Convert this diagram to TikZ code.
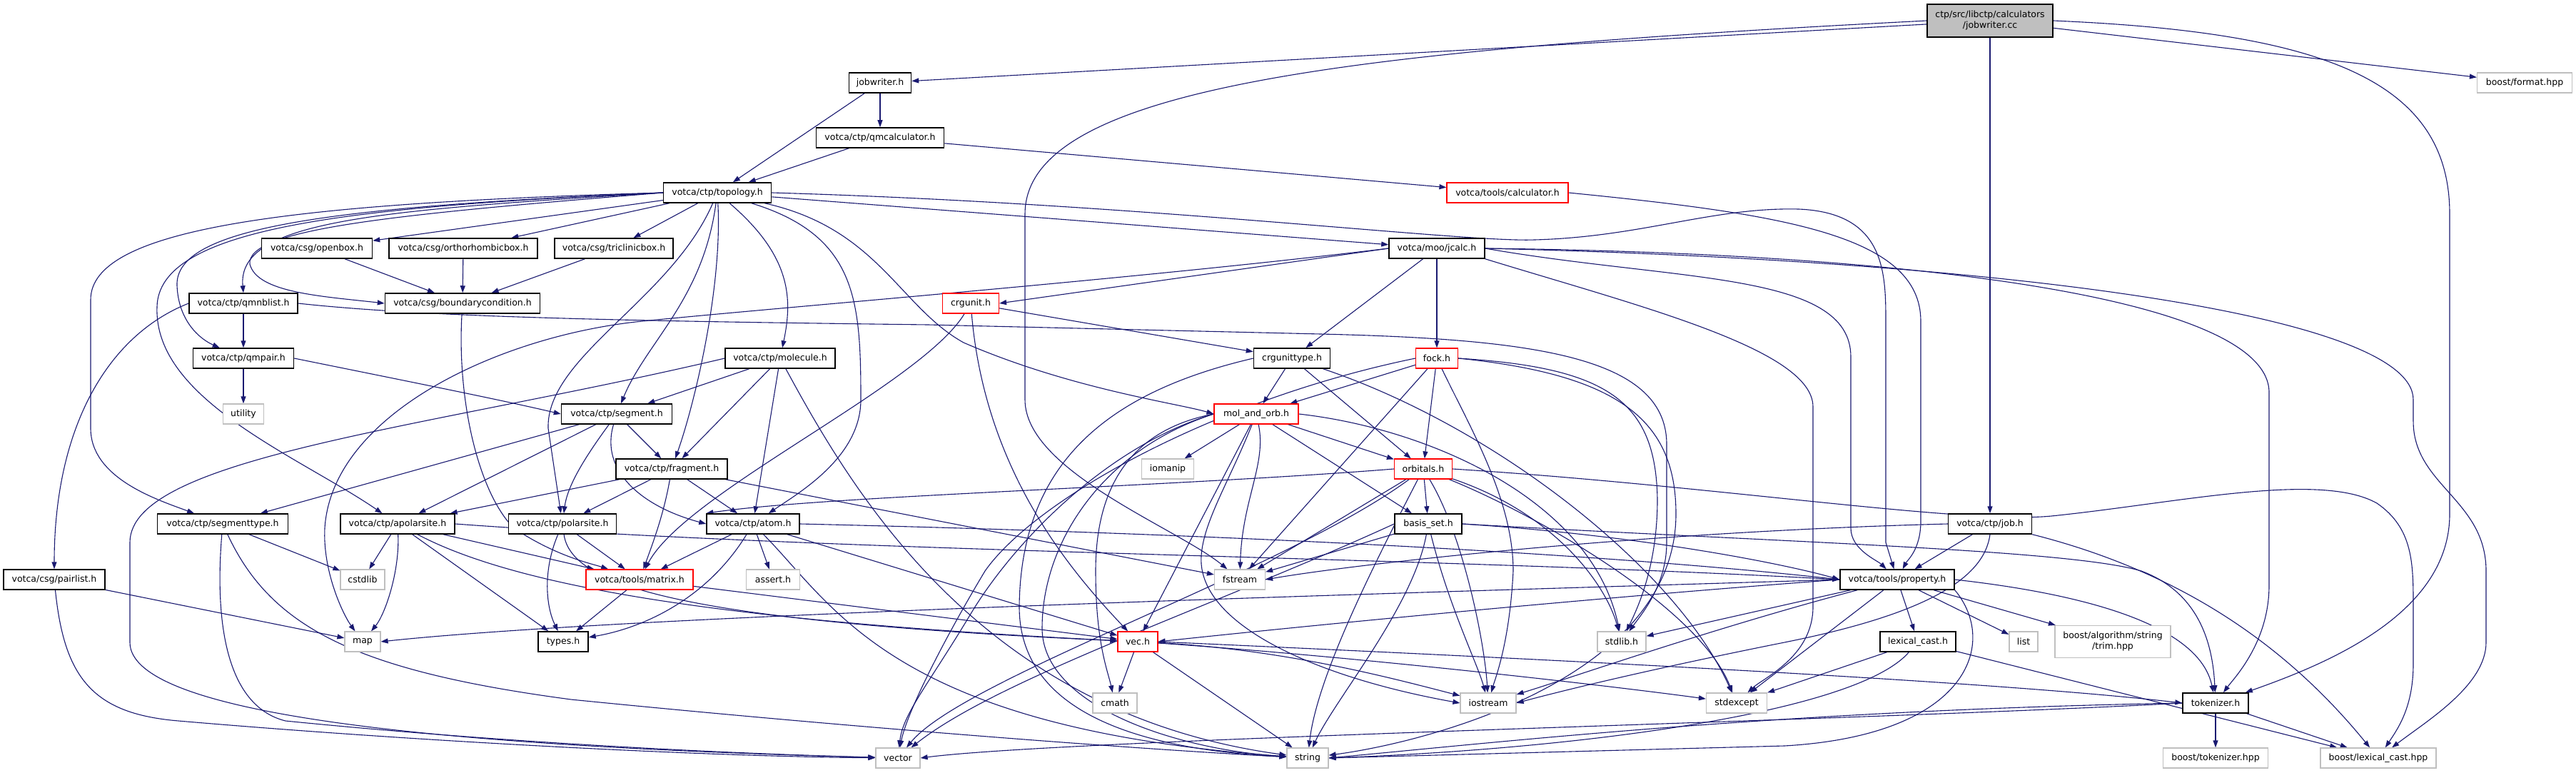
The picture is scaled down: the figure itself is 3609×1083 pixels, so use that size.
\documentclass[tikz,border=0pt]{standalone}
\usepackage{fontspec}
\setmainfont{DejaVu Sans}
\usetikzlibrary{arrows.meta,backgrounds}
\definecolor{edgec}{HTML}{191970}
\definecolor{greyb}{HTML}{BFBFBF}
\begin{document}
\begin{tikzpicture}[x=1pt,y=1pt,
  nb/.style={draw=black,line width=1.5pt,fill=white,minimum height=28pt,inner sep=0pt,align=center,font=\fontsize{12.5}{15}\selectfont},
  nr/.style={nb,draw=red,line width=1.2pt},
  ng/.style={nb,draw=greyb,line width=1.2pt},
  e/.style={draw=edgec,line width=1.1pt,-{Triangle[length=10pt,width=7pt]}}]
\useasboundingbox (0,0) rectangle (3609,-1083);
% nodes
\node[nb,fill=greyb,minimum width=176pt,minimum height=46pt] (cc) at (2788,-29) {ctp/src/libctp/calculators\\/jobwriter.cc};
\node[nb,minimum width=87pt] (jwh) at (1233,-116) {jobwriter.h};
\node[ng,minimum width=133pt] (fmt) at (3537,-116) {boost/format.hpp};
\node[nb,minimum width=179pt] (qmc) at (1233,-193) {votca/ctp/qmcalculator.h};
\node[nb,minimum width=151pt] (topo) at (1005,-270) {votca/ctp/topology.h};
\node[nr,minimum width=170pt] (calc) at (2112,-270) {votca/tools/calculator.h};
\node[nb,minimum width=155pt] (openbox) at (444,-348) {votca/csg/openbox.h};
\node[nb,minimum width=208pt] (ortho) at (649,-348) {votca/csg/orthorhombicbox.h};
\node[nb,minimum width=166pt] (tricl) at (860,-348) {votca/csg/triclinicbox.h};
\node[nb,minimum width=134pt] (jcalc) at (2013,-348) {votca/moo/jcalc.h};
\node[nb,minimum width=217pt] (bc) at (648,-425) {votca/csg/boundarycondition.h};
\node[nb,minimum width=152pt] (qmnb) at (341,-425) {votca/ctp/qmnblist.h};
\node[nr,minimum width=79pt] (crgu) at (1360,-425) {crgunit.h};
\node[nb,minimum width=141pt] (qmpair) at (341,-502) {votca/ctp/qmpair.h};
\node[nb,minimum width=154pt] (molecule) at (1093,-502) {votca/ctp/molecule.h};
\node[nb,minimum width=107pt] (crgut) at (1810,-502) {crgunittype.h};
\node[nr,minimum width=59pt] (fock) at (2013,-502) {fock.h};
\node[ng,minimum width=57pt] (utility) at (341,-580) {utility};
\node[nb,minimum width=155pt] (segment) at (864,-580) {votca/ctp/segment.h};
\node[nr,minimum width=118pt] (molorb) at (1760,-580) {mol\_and\_orb.h};
\node[nb,minimum width=156pt] (fragment) at (941,-657) {votca/ctp/fragment.h};
\node[ng,minimum width=73pt] (iomanip) at (1636,-657) {iomanip};
\node[nr,minimum width=81pt] (orbitals) at (1994,-657) {orbitals.h};
\node[nb,minimum width=183pt] (segtype) at (312,-734) {votca/ctp/segmenttype.h};
\node[nb,minimum width=160pt] (apolar) at (557,-734) {votca/ctp/apolarsite.h};
\node[nb,minimum width=151pt] (polar) at (788,-734) {votca/ctp/polarsite.h};
\node[nb,minimum width=130pt] (atom) at (1055,-734) {votca/ctp/atom.h};
\node[nb,minimum width=94pt] (basis) at (2001,-734) {basis\_set.h};
\node[nb,minimum width=117pt] (job) at (2788,-734) {votca/ctp/job.h};
\node[nb,minimum width=142pt] (pairlist) at (76,-812) {votca/csg/pairlist.h};
\node[ng,minimum width=62pt] (cstdlib) at (508,-812) {cstdlib};
\node[nr,minimum width=150pt] (matrix) at (896,-812) {votca/tools/matrix.h};
\node[ng,minimum width=75pt] (assert) at (1083,-812) {assert.h};
\node[ng,minimum width=71pt] (fstream) at (1737,-812) {fstream};
\node[nb,minimum width=160pt] (property) at (2658,-812) {votca/tools/property.h};
\node[ng,minimum width=50pt] (map) at (508,-899) {map};
\node[nb,minimum width=70pt] (types) at (789,-899) {types.h};
\node[nr,minimum width=56pt] (vec) at (1594,-899) {vec.h};
\node[ng,minimum width=68pt] (stdlib) at (2272,-899) {stdlib.h};
\node[nb,minimum width=106pt] (lexcast) at (2687,-899) {lexical\_cast.h};
\node[ng,minimum width=40pt] (list) at (2835,-899) {list};
\node[ng,minimum width=162pt,minimum height=45pt] (trim) at (2960,-899) {boost/algorithm/string\\/trim.hpp};
\node[ng,minimum width=62pt] (cmath) at (1562,-985) {cmath};
\node[ng,minimum width=78pt] (iostream) at (2085,-985) {iostream};
\node[ng,minimum width=85pt] (stdexcept) at (2433,-985) {stdexcept};
\node[nb,minimum width=92pt] (tokenizer) at (3104,-985) {tokenizer.h};
\node[ng,minimum width=62pt] (vector) at (1258,-1062) {vector};
\node[ng,minimum width=58pt] (string) at (1832,-1062) {string};
\node[ng,minimum width=147pt] (btok) at (3104,-1062) {boost/tokenizer.hpp};
\node[ng,minimum width=162pt] (blc) at (3332,-1062) {boost/lexical\_cast.hpp};
% edges
\begin{pgfonlayer}{background}
% root
\draw[e] (cc) -- (jwh);
\draw[e] (cc) -- (fmt);
\draw[e] (cc) -- (job);
\draw[e] (cc.west) .. controls (1900,-70) and (1436,-120) .. (1436,-300) -- (1436,-560) .. controls (1436,-660) and (1650,-740) .. (fstream);
\draw[e] (cc.east) .. controls (3250,-45) and (3432,-110) .. (3432,-300) -- (3432,-720) .. controls (3432,-860) and (3260,-930) .. (tokenizer);
\draw[e] (jwh) -- (qmc);
\draw[e] (jwh) -- (topo);
\draw[e] (qmc) -- (topo);
\draw[e] (qmc) -- (calc);
\draw[e] (calc.east) .. controls (2500,-300) and (2691,-330) .. (2691,-450) -- (2691,-730) .. controls (2691,-770) and (2672,-785) .. (property);
% topology
\draw[e] (topo) -- (openbox);
\draw[e] (topo) -- (ortho);
\draw[e] (topo) -- (tricl);
\draw[e] (topo.west) .. controls (560,-300) and (345,-320) .. (350,-370) .. controls (360,-410) and (450,-415) .. (bc.west);
\draw[e] (topo.west) .. controls (520,-295) and (332,-310) .. (qmnb.north);
\draw[e] (topo.west) .. controls (450,-290) and (245,-320) .. (248,-400) .. controls (250,-450) and (280,-475) .. (qmpair);
\draw[e] (topo.west) .. controls (400,-285) and (127,-320) .. (127,-420) -- (127,-600) .. controls (127,-670) and (220,-700) .. (segtype);
\draw[e] (topo.west) .. controls (480,-290) and (222,-320) .. (220,-430) .. controls (215,-560) and (420,-640) .. (apolar);
\draw[e] (topo) .. controls (940,-420) and (765,-500) .. (768,-600) -- (polar);
\draw[e] (topo) .. controls (985,-420) and (905,-480) .. (segment);
\draw[e] (topo) .. controls (1012,-400) and (975,-560) .. (fragment);
\draw[e] (topo) .. controls (1110,-360) and (1110,-420) .. (molecule);
\draw[e] (topo) .. controls (1200,-330) and (1206,-420) .. (1206,-560) .. controls (1206,-640) and (1120,-690) .. (atom);
\draw[e] (topo) .. controls (1230,-320) and (1260,-430) .. (1350,-480) .. controls (1500,-545) and (1650,-565) .. (molorb.west);
\draw[e] (topo) -- (jcalc);
\draw[e] (topo.east) .. controls (1600,-285) and (2050,-340) .. (2150,-336) .. controls (2300,-332) and (2400,-290) .. (2520,-293) .. controls (2640,-298) and (2642,-380) .. (2642,-450) -- (2642,-760) -- (property);
\draw[e] (openbox) -- (bc);
\draw[e] (ortho) -- (bc);
\draw[e] (tricl) -- (bc);
\draw[e] (bc) .. controls (640,-560) and (670,-690) .. (720,-740) .. controls (780,-780) and (830,-790) .. (matrix);
% jcalc
\draw[e] (jcalc.west) -- (crgu.east);
\draw[e] (jcalc.west) .. controls (1600,-390) and (1100,-430) .. (900,-450) .. controls (700,-470) and (465,-580) .. (455,-740) .. controls (452,-800) and (480,-860) .. (map);
\draw[e] (jcalc) -- (crgut);
\draw[e] (jcalc) -- (fock);
\draw[e] (jcalc.east) .. controls (2350,-395) and (2593,-380) .. (2593,-500) -- (2593,-740) .. controls (2593,-770) and (2630,-785) .. (property);
\draw[e] (jcalc.south east) .. controls (2300,-430) and (2540,-490) .. (2540,-570) -- (2540,-850) .. controls (2540,-920) and (2470,-950) .. (stdexcept);
\draw[e] (jcalc.east) .. controls (2700,-355) and (3179,-420) .. (3179,-550) -- (3179,-820) .. controls (3179,-900) and (3130,-950) .. (tokenizer);
\draw[e] (jcalc.east) .. controls (2800,-365) and (3381,-440) .. (3381,-560) -- (3381,-590) .. controls (3381,-680) and (3483,-700) .. (3483,-800) -- (3483,-900) .. controls (3483,-960) and (3400,-1010) .. (blc);
% crgunit
\draw[e] (crgu) -- (crgut);
\draw[e] (crgu) .. controls (1290,-540) and (960,-690) .. (matrix);
\draw[e] (crgu) .. controls (1380,-660) and (1500,-800) .. (vec);
% molecule
\draw[e] (molecule) -- (segment);
\draw[e] (molecule) -- (fragment);
\draw[e] (molecule) -- (atom);
\draw[e] (molecule) .. controls (1200,-700) and (1380,-1000) .. (string);
\draw[e] (molecule.west) .. controls (600,-600) and (182,-640) .. (182,-760) -- (182,-900) .. controls (182,-1000) and (600,-1045) .. (vector);
% qm
\draw[e] (qmnb) -- (qmpair);
\draw[e] (qmnb.west) .. controls (150,-470) and (76,-600) .. (pairlist);
\draw[e] (qmnb.east) .. controls (600,-445) and (900,-450) .. (1300,-455) -- (1850,-468) .. controls (2150,-475) and (2332,-500) .. (2335,-620) -- (2335,-760) .. controls (2335,-820) and (2300,-860) .. (stdlib);
\draw[e] (qmpair) -- (utility);
\draw[e] (qmpair.east) .. controls (600,-540) and (700,-560) .. (segment.west);
% segment & fragment
\draw[e] (segment) -- (segtype);
\draw[e] (segment) -- (apolar);
\draw[e] (segment) .. controls (820,-640) and (795,-680) .. (polar);
\draw[e] (segment) -- (fragment);
\draw[e] (segment) .. controls (840,-660) and (900,-710) .. (atom.west);
\draw[e] (fragment) -- (apolar);
\draw[e] (fragment) -- (polar);
\draw[e] (fragment) -- (atom);
\draw[e] (fragment) -- (fstream);
\draw[e] (fragment) .. controls (930,-720) and (915,-760) .. (matrix);
% segtype, pairlist
\draw[e] (segtype) -- (cstdlib);
\draw[e] (segtype) .. controls (380,-880) and (500,-940) .. (800,-980) .. controls (1200,-1020) and (1600,-1050) .. (string);
\draw[e] (segtype) .. controls (300,-880) and (320,-990) .. (400,-1010) .. controls (700,-1040) and (1000,-1055) .. (vector);
\draw[e] (pairlist) -- (map);
\draw[e] (pairlist) .. controls (90,-950) and (130,-1000) .. (250,-1010) .. controls (600,-1040) and (1000,-1060) .. (vector);
% apolar / polar / atom / matrix
\draw[e] (apolar) -- (cstdlib);
\draw[e] (apolar) .. controls (560,-800) and (540,-860) .. (map);
\draw[e] (apolar) -- (types);
\draw[e] (apolar) .. controls (720,-820) and (1000,-870) .. (vec);
\draw[e] (apolar) -- (matrix);
\draw[e] (apolar.east) .. controls (1200,-775) and (2000,-780) .. (property.west);
\draw[e] (polar) .. controls (760,-800) and (765,-850) .. (types);
\draw[e] (polar) .. controls (800,-820) and (950,-870) .. (vec);
\draw[e] (polar) -- (matrix);
\draw[e] (atom) -- (vec);
\draw[e] (atom) -- (matrix);
\draw[e] (atom) .. controls (990,-840) and (900,-880) .. (types);
\draw[e] (atom) -- (assert);
\draw[e] (atom) .. controls (1170,-850) and (1250,-1020) .. (string);
\draw[e] (atom.east) .. controls (1600,-745) and (2200,-770) .. (property.west);
\draw[e] (matrix) -- (types);
\draw[e] (matrix) -- (vec);
% crgunittype / fock
\draw[e] (crgut) -- (molorb);
\draw[e] (crgut) -- (orbitals);
\draw[e] (crgut) .. controls (2100,-600) and (2350,-800) .. (stdexcept);
\draw[e] (crgut.west) .. controls (1550,-550) and (1430,-650) .. (1428,-850) .. controls (1428,-1000) and (1600,-1050) .. (string);
\draw[e] (fock) -- (molorb);
\draw[e] (fock) -- (orbitals);
\draw[e] (fock) -- (fstream);
\draw[e] (fock) .. controls (2060,-600) and (2120,-700) .. (2120,-800) .. controls (2115,-900) and (2095,-950) .. (iostream);
\draw[e] (fock.east) .. controls (2250,-515) and (2320,-560) .. (2322,-700) .. controls (2322,-800) and (2290,-860) .. (stdlib);
\draw[e] (fock.east) .. controls (2270,-525) and (2348,-590) .. (2348,-720) .. controls (2348,-950) and (2000,-1040) .. (string);
\draw[e] (fock.west) .. controls (1700,-560) and (1450,-700) .. (1380,-800) .. controls (1320,-900) and (1270,-1000) .. (vector);
% mol_and_orb
\draw[e] (molorb) -- (iomanip);
\draw[e] (molorb) -- (orbitals);
\draw[e] (molorb) -- (basis);
\draw[e] (molorb) .. controls (1775,-650) and (1740,-700) .. (fstream);
\draw[e] (molorb) -- (vec);
\draw[e] (molorb.west) .. controls (1570,-605) and (1535,-700) .. (1535,-800) .. controls (1535,-900) and (1552,-940) .. (cmath);
\draw[e] (molorb.west) .. controls (1550,-625) and (1420,-760) .. (1360,-860) .. controls (1300,-960) and (1265,-1000) .. (vector);
\draw[e] (molorb.west) .. controls (1545,-630) and (1460,-760) .. (1460,-880) .. controls (1460,-990) and (1650,-1050) .. (string);
\draw[e] (molorb) .. controls (1720,-680) and (1680,-740) .. (1683,-790) .. controls (1690,-880) and (1850,-950) .. (iostream.west);
\draw[e] (molorb.east) .. controls (2000,-600) and (2230,-700) .. (stdlib);
% orbitals
\draw[e] (orbitals) -- (basis);
\draw[e] (orbitals) -- (fstream);
\draw[e] (orbitals.west) .. controls (1640,-682) and (1150,-695) .. (atom.north west);
\draw[e] (orbitals) .. controls (2050,-750) and (2080,-900) .. (iostream);
\draw[e] (orbitals) .. controls (2180,-720) and (2250,-820) .. (stdlib);
\draw[e] (orbitals) .. controls (2150,-720) and (2380,-850) .. (stdexcept);
\draw[e] (orbitals) .. controls (1800,-800) and (1350,-950) .. (vector);
\draw[e] (orbitals) .. controls (1920,-800) and (1845,-950) .. (string);
\draw[e] (orbitals.east) .. controls (2400,-680) and (2750,-735) .. (2874,-723) .. controls (3050,-705) and (3250,-660) .. (3330,-705) .. controls (3381,-740) and (3381,-790) .. (3381,-850) -- (3381,-930) .. controls (3381,-990) and (3360,-1020) .. (blc);
% basis_set
\draw[e] (basis) -- (fstream);
\draw[e] (basis.east) .. controls (2300,-750) and (2500,-790) .. (property.west);
\draw[e] (basis.east) .. controls (2500,-760) and (2900,-770) .. (3000,-800) .. controls (3080,-830) and (3100,-900) .. (tokenizer);
\draw[e] (basis) .. controls (1980,-850) and (1870,-980) .. (string);
\draw[e] (basis) .. controls (2030,-850) and (2070,-930) .. (iostream);
\draw[e] (basis.west) .. controls (1700,-850) and (1400,-950) .. (vector);
% job
\draw[e] (job.west) .. controls (2300,-745) and (1900,-790) .. (fstream.east);
\draw[e] (job) -- (property);
\draw[e] (job.south) .. controls (2780,-810) and (2700,-860) .. (2500,-900) .. controls (2300,-940) and (2180,-970) .. (iostream.east);
\draw[e] (job.south east) .. controls (3050,-800) and (3200,-900) .. (blc);
% property
\draw[e] (property.west) .. controls (2000,-830) and (900,-860) .. (map.east);
\draw[e] (property.west) .. controls (2200,-840) and (1800,-880) .. (vec.east);
\draw[e] (property) -- (stdlib);
\draw[e] (property) .. controls (2400,-880) and (2200,-950) .. (iostream);
\draw[e] (property) -- (stdexcept);
\draw[e] (property.south east) .. controls (2800,-900) and (2760,-1030) .. (2500,-1045) -- (string.east);
\draw[e] (property) -- (lexcast);
\draw[e] (property) -- (list);
\draw[e] (property) -- (trim);
\draw[e] (property.east) .. controls (2900,-830) and (3080,-870) .. (tokenizer);
% lexical_cast.h, tokenizer, vec
\draw[e] (lexcast) -- (stdexcept);
\draw[e] (lexcast) .. controls (2600,-1000) and (2200,-1050) .. (string.east);
\draw[e] (lexcast) -- (blc);
\draw[e] (tokenizer) -- (btok);
\draw[e] (tokenizer) -- (blc);
\draw[e] (tokenizer.west) .. controls (2500,-995) and (2100,-1040) .. (string.east);
\draw[e] (tokenizer.west) .. controls (2600,-1010) and (1500,-1035) .. (vector.east);
\draw[e] (vec) -- (cmath);
\draw[e] (vec) -- (string);
\draw[e] (vec) .. controls (1800,-910) and (1950,-950) .. (iostream);
\draw[e] (vec) .. controls (1900,-920) and (2250,-960) .. (stdexcept);
\draw[e] (vec.east) .. controls (2200,-925) and (2800,-955) .. (tokenizer.west);
\end{pgfonlayer}
\end{tikzpicture}
\end{document}
